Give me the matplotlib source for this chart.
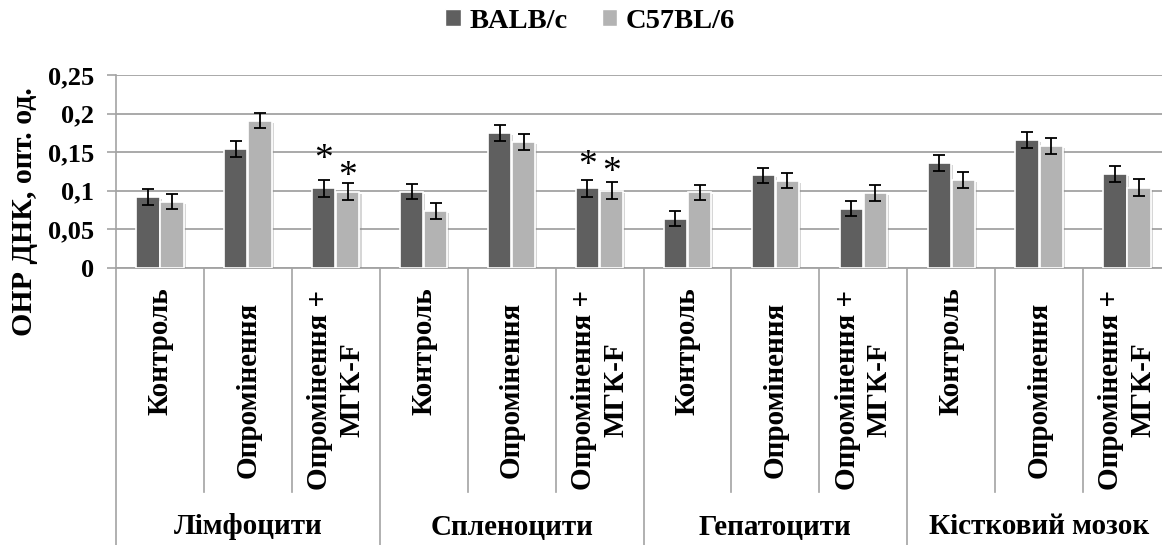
import matplotlib
matplotlib.use('Agg')
import matplotlib.pyplot as plt
import matplotlib.patheffects as pe
from matplotlib.patches import Patch
from matplotlib.transforms import blended_transform_factory
import numpy as np

# Групи клітин та умови досліду
groups = ['Лімфоцити', 'Спленоцити', 'Гепатоцити', 'Кістковий мозок']
conditions = ['Контроль', 'Опромінення', 'Опромінення +\nМГК-F']

strains = ['BALB/c', 'C57BL/6']

# ОНР ДНК, опт. од. (по 3 умови на кожну групу)
balb = [0.092, 0.154, 0.103,
        0.099, 0.175, 0.103,
        0.064, 0.120, 0.077,
        0.136, 0.166, 0.122]
balb_err = [0.010, 0.010, 0.011,
            0.010, 0.010, 0.011,
            0.010, 0.010, 0.010,
            0.010, 0.010, 0.010]

c57 = [0.086, 0.191, 0.099,
       0.074, 0.163, 0.100,
       0.098, 0.113, 0.097,
       0.114, 0.158, 0.104]
c57_err = [0.010, 0.010, 0.011,
           0.010, 0.010, 0.011,
           0.010, 0.010, 0.010,
           0.011, 0.010, 0.011]

# позначки достовірності (індекс стовпчика)
star_balb = [2, 5]
star_c57 = [2, 5]

yticks = [0, 0.05, 0.1, 0.15, 0.2, 0.25]

dark = '#5f5f5f'
light = '#b3b3b3'
grid_c = '#a3a3a3'

plt.rcParams['font.family'] = ['Liberation Serif', 'DejaVu Serif']
plt.rcParams['font.weight'] = 'bold'

W, H = 1162, 545
fig = plt.figure(figsize=(W / 100, H / 100), dpi=100)
ax = fig.add_axes([116 / W, 1 - 268 / H, 1055 / W, 193 / H])

n = len(balb)
x = np.arange(n) + 0.5
bw = 0.265
shadow = [pe.SimplePatchShadow(offset=(1.5, -1.5), shadow_rgbFace='0.55', alpha=0.35), pe.Normal()]

b1 = ax.bar(x - 0.137, balb, bw, color=dark, edgecolor='white', linewidth=1.2, zorder=3)
b2 = ax.bar(x + 0.137, c57, bw, color=light, edgecolor='white', linewidth=1.2, zorder=3)
for b in list(b1) + list(b2):
    b.set_path_effects(shadow)

ekw = dict(fmt='none', ecolor='black', elinewidth=1.3, capsize=4.5, capthick=1.3, zorder=4)
ax.errorbar(x - 0.137, balb, yerr=balb_err, **ekw)
ax.errorbar(x + 0.137, c57, yerr=c57_err, **ekw)

# зірочки над стовпчиками
star_off_balb = [20, 14]
star_off_c57 = [6, 10]
for i, off in zip(star_balb, star_off_balb):
    ax.annotate('*', (x[i] - 0.137, balb[i] + balb_err[i]), xytext=(0, off),
                textcoords='offset pixels', ha='center', va='center',
                fontsize=27, fontweight='normal', zorder=5)
for i, off in zip(star_c57, star_off_c57):
    ax.annotate('*', (x[i] + 0.137, c57[i] + c57_err[i]), xytext=(0, off),
                textcoords='offset pixels', ha='center', va='center',
                fontsize=27, fontweight='normal', zorder=5)

ax.set_xlim(0, n)
ax.set_ylim(0, 0.25)
ax.set_yticks(yticks)
ax.set_yticklabels([('%g' % t).replace('.', ',') for t in yticks], fontsize=19)
ax.set_xticks([])
ax.tick_params(axis='y', length=6.5, width=1.2, color=grid_c, pad=9)
ax.grid(axis='y', color=grid_c, linewidth=1.3, zorder=0)
ax.set_axisbelow(True)
for s in ['top', 'right']:
    ax.spines[s].set_visible(False)
ax.spines['left'].set_color(grid_c)
ax.spines['bottom'].set_color(grid_c)
ax.spines['left'].set_linewidth(1.2)
ax.spines['bottom'].set_linewidth(1.3)

fig.text(25 / W, 1 - 212 / H, 'ОНР ДНК, опт. од.', rotation=90,
         ha='center', va='center', fontsize=21.5)

# підписи категорій під віссю
tr = blended_transform_factory(ax.transData, ax.transAxes)
px = 1 / 193.0
label_center = {'Контроль': 351}
for i in range(n):
    lab = conditions[i % 3]
    cy = label_center.get(lab, 390)
    ax.text(x[i], -(cy - 268) * px, lab, transform=tr, rotation=90,
            ha='center', va='center', fontsize=21, linespacing=1.25,
            multialignment='center')

for k in range(n + 1):
    if k % 3 == 0:
        ax.plot([k, k], [0, -(H - 268) * px], transform=tr, color=grid_c,
                linewidth=1.2, clip_on=False)
    else:
        ax.plot([k, k], [0, -(492 - 268) * px], transform=tr, color=grid_c,
                linewidth=1.2, clip_on=False)

for g, name in enumerate(groups):
    ax.text(g * 3 + 1.5, -(527 - 268) * px, name, transform=tr,
            ha='center', va='center', fontsize=21)

handles = [Patch(facecolor=dark, edgecolor='white'), Patch(facecolor=light, edgecolor='white')]
fig.legend(handles, strains, loc='center', bbox_to_anchor=(590 / W, 1 - 21 / H),
           ncol=2, frameon=False, fontsize=20.5, handlelength=0.55, handleheight=0.55,
           handletextpad=0.3, columnspacing=1.2)

fig.savefig('out.png', dpi=100)
